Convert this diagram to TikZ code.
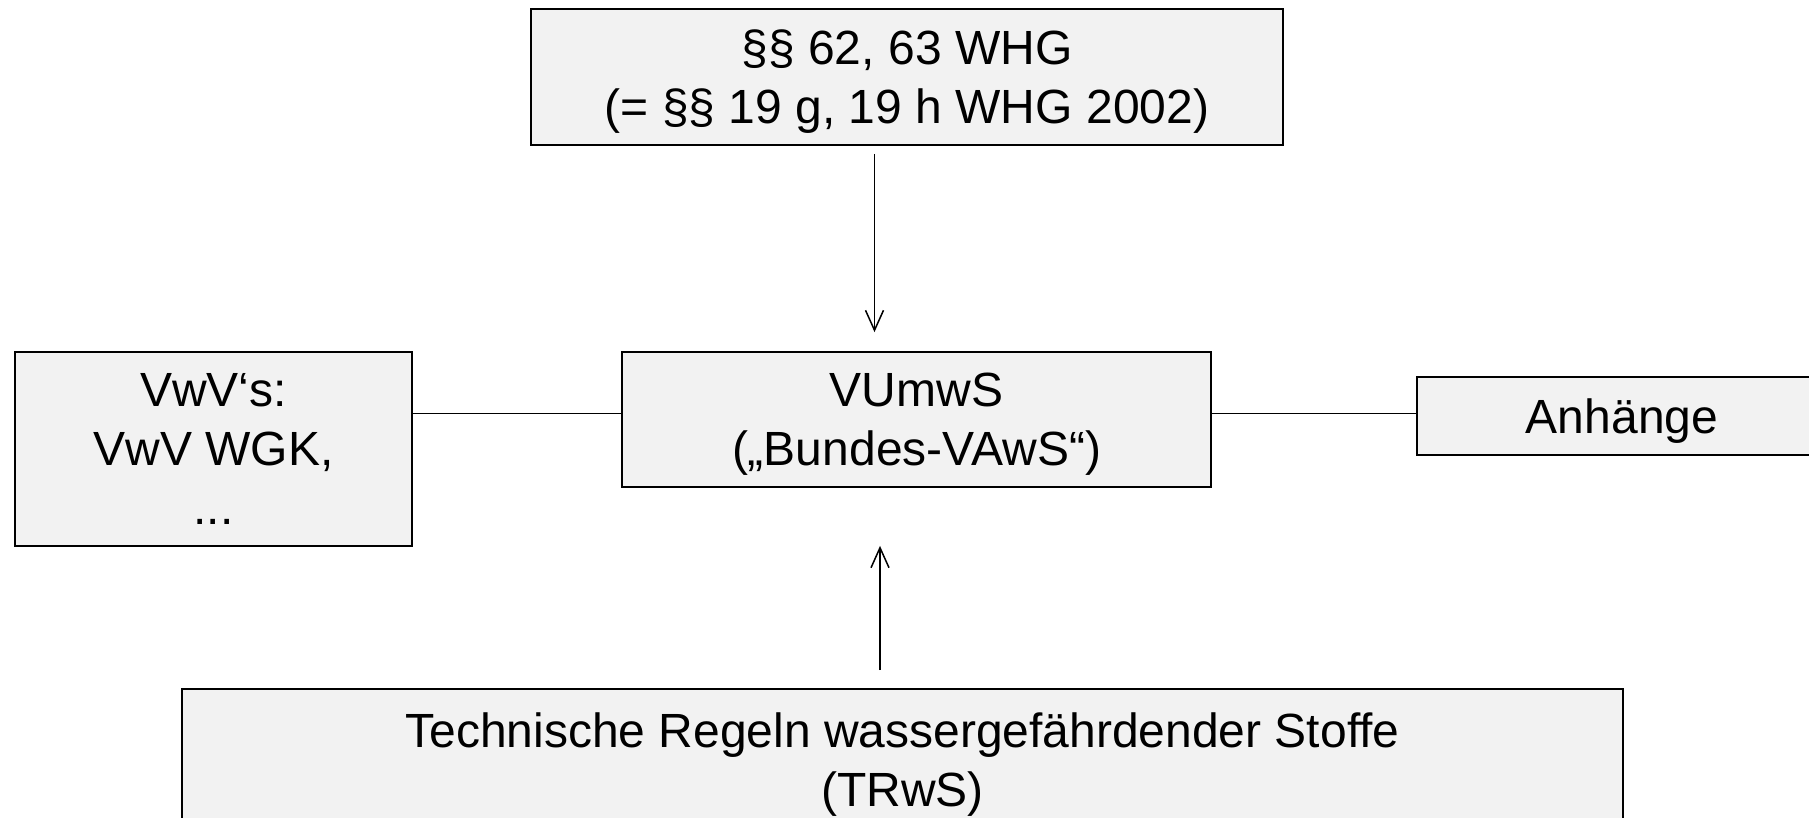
\documentclass[tikz,border=0pt]{standalone}
\usepackage{fontspec}
\setmainfont{Liberation Sans}
\usetikzlibrary{arrows.meta}
\definecolor{boxgray}{HTML}{F2F2F2}
\begin{document}
\begin{tikzpicture}[x=0.5pt,y=-0.5pt,
  box/.style={draw=black, line width=0.9pt, fill=boxgray, inner sep=0pt, align=center,
              text depth=0pt, font=\fontsize{24}{29.5}\selectfont},
  conn/.style={line width=0.75pt},
  arr/.style={conn, -{Straight Barb[length=10pt,width=9pt]}}]
\useasboundingbox (0,0) rectangle (1809,818);
\clip (0,0) rectangle (1809,818);
\node[box, minimum width=376pt, minimum height=68pt] (whg) at (907,77)
  {§§ 62, 63 WHG\\(= §§ 19 g, 19 h WHG 2002)};
\node[box, minimum width=198.5pt, minimum height=97pt] (vwv) at (213.5,449)
  {VwV‘s:\\VwV WGK,\\...};
\node[box, minimum width=294.5pt, minimum height=67.5pt] (vumws) at (916.5,419.5)
  {VUmwS\\(„Bundes-VAwS“)};
\node[box, minimum width=205pt, minimum height=39pt] (anh) at (1622,416)
  {Anhänge};
\node[box, minimum width=720.5pt, minimum height=71pt] (trws) at (902.5,760)
  {Technische Regeln wassergefährdender Stoffe\\(TRwS)};
\coordinate (xa) at (874.5,0);
\coordinate (xb) at (880,0);
\coordinate (ly) at (0,413.5);
\draw[arr, shorten <=4pt, shorten >=9.5pt] (whg.south -| xa) -- (vumws.north -| xa);
\draw[arr, shorten <=9pt, shorten >=29pt] (trws.north -| xb) -- (vumws.south -| xb);
\draw[conn] (vwv.east |- ly) -- (vumws.west |- ly);
\draw[conn] (vumws.east |- ly) -- (anh.west |- ly);
\end{tikzpicture}
\end{document}
